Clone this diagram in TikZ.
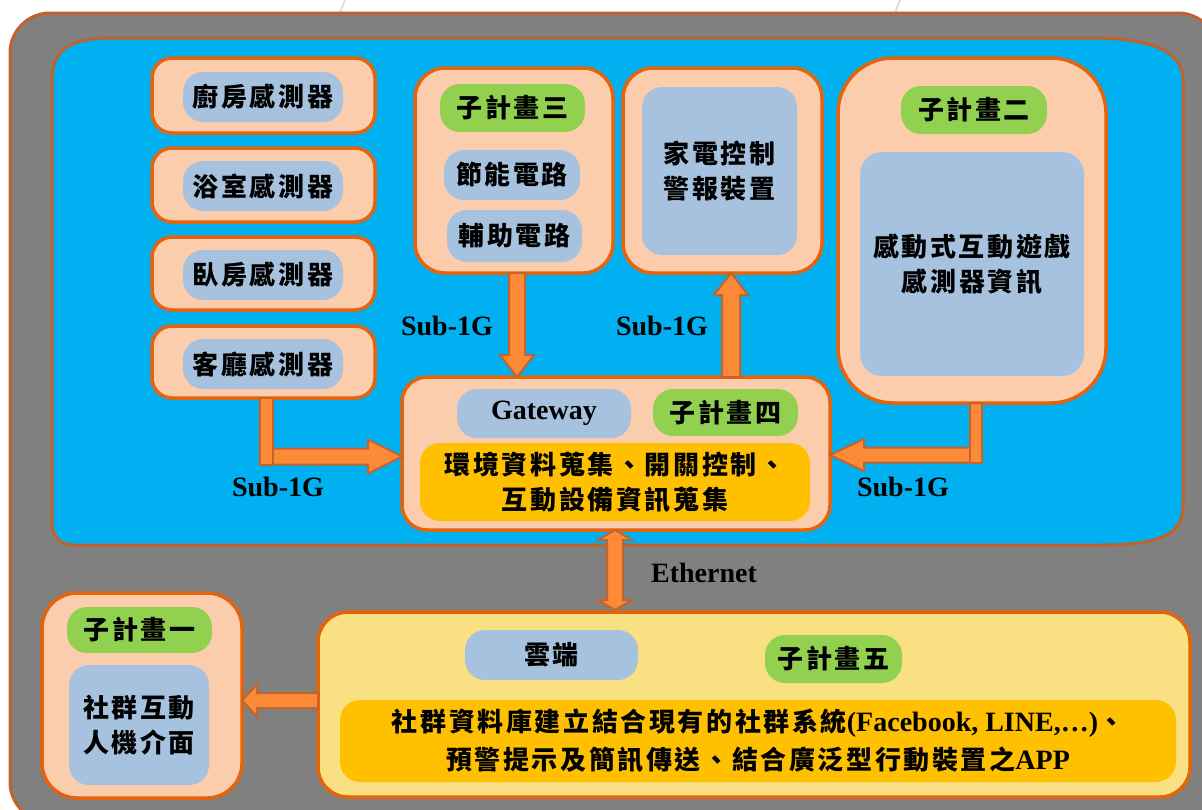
\documentclass[tikz,border=0pt]{standalone}
\usepackage{fontspec}
\setmainfont{Liberation Serif}
\newfontfamily\cjk[LetterSpace=10]{Noto Sans CJK TC}
\usetikzlibrary{calc}
\definecolor{peach}{HTML}{FCCDAC}
\definecolor{borange}{HTML}{E3640C}
\definecolor{obord}{HTML}{C0622A}
\definecolor{pblue}{HTML}{A6C2DE}
\definecolor{lgreen}{HTML}{92D050}
\definecolor{goldc}{HTML}{FFC000}
\definecolor{sky}{HTML}{00B0F0}
\definecolor{grayc}{HTML}{808080}
\definecolor{yellowc}{HTML}{F9E083}
\definecolor{afill}{HTML}{FD8A36}
\definecolor{abord}{HTML}{C4632A}
\newcommand\cj{\cjk\bfseries\fontsize{26}{35}\selectfont}
\newcommand\latinb{\rmfamily\bfseries\fontsize{28}{34}\selectfont}
\tikzset{
 box/.style={draw=borange, line width=3.5pt, fill=peach, rounded corners=#1, inner sep=0pt, outer sep=0pt},
 box/.default=20pt,
 pill/.style={fill=pblue, rounded corners=#1, inner sep=0pt, outer sep=0pt, align=center, font=\cj},
 pill/.default=20pt,
 gpill/.style={pill, fill=lgreen},
 goldbox/.style={pill=20pt, fill=goldc},
 lab/.style={font=\latinb, inner sep=0pt},
 barrow/.style={fill=afill, draw=abord, line width=2pt, line join=miter},
}
\begin{document}
\begin{tikzpicture}[x=1pt,y=-1pt]
\useasboundingbox (0,0) rectangle (1202,809);
\clip (0,0) rectangle (1202,809);
\fill[white] (0,0) rectangle (1202,809);
% faint background strokes
\draw[gray!30, line width=1.5pt] (345,0) -- (340,13);
\draw[gray!30, line width=1.5pt] (900,0) -- (895,13);
% outer gray frame
\draw[draw=obord, line width=3pt, fill=grayc, rounded corners=40pt] (10,13) rectangle (1218,822);
% blue region
\draw[draw=obord, line width=3pt, fill=sky]
  (52,520) -- (52,80) .. controls (52,50) and (70,38) .. (110,38) -- (1090,38)
  .. controls (1160,38) and (1183,55) .. (1183,80) -- (1183,505)
  .. controls (1183,535) and (1160,545) .. (1100,545) -- (75,545)
  .. controls (60,545) and (52,538) .. (52,520) -- cycle;

% sensors
\node[box, minimum width=223pt, minimum height=75pt] (k) at (263.5,95.5) {};
\node[pill, minimum width=160pt, minimum height=50pt] (kp) at (263,97) {廚房感測器};
\node[box, minimum width=223pt, minimum height=74pt] (b) at (263.5,185) {};
\node[pill, minimum width=160pt, minimum height=50pt] (bp) at (263,186) {浴室感測器};
\node[box, minimum width=223pt, minimum height=73pt] (r) at (263.5,273.5) {};
\node[pill, minimum width=160pt, minimum height=50pt] (rp) at (263,275) {臥房感測器};
\node[box, minimum width=223pt, minimum height=72pt] (l) at (263.5,362) {};
\node[pill, minimum width=160pt, minimum height=50pt] (lp) at (263,364) {客廳感測器};

% sub-project 3
\node[box=30pt, minimum width=198pt, minimum height=205pt] (s3) at (514,170.5) {};
\node[gpill, minimum width=145pt, minimum height=48pt] (g3) at (512.5,108) {子計畫三};
\node[pill, minimum width=136pt, minimum height=50pt] (p1) at (512,175) {節能電路};
\node[pill, minimum width=135pt, minimum height=52pt] (p2) at (514.5,236) {輔助電路};

% appliance
\node[box=30pt, minimum width=199pt, minimum height=205pt] (ap) at (722.5,170.5) {};
\node[pill, minimum width=155pt, minimum height=168pt] (api) at (719.5,171) {家電控制\\警報裝置};

% sub-project 2
\node[box=55pt, minimum width=268pt, minimum height=345pt] (s2) at (972,230.5) {};
\node[gpill, minimum width=146pt, minimum height=48pt] (g2) at (974,110) {子計畫二};
\node[pill=22pt, minimum width=224pt, minimum height=224pt] (s2i) at (972,264) {感動式互動遊戲\\感測器資訊};

% gateway
\node[box=25pt, minimum width=428pt, minimum height=153pt] (gw) at (616,453.5) {};
\node[pill, font=\latinb, minimum width=174pt, minimum height=49pt] (gwp) at (544,413.5) {Gateway};
\node[gpill, minimum width=145pt, minimum height=47pt] (g4) at (725.5,412.5) {子計畫四};
\node[goldbox, minimum width=390pt, minimum height=78pt] (gwg) at (615,482) {環境資料蒐集、開關控制、\\互動設備資訊蒐集};

% cloud
\node[box=30pt, fill=yellowc, minimum width=872pt, minimum height=185pt] (cl) at (754,704.5) {};
\node[pill, minimum width=173pt, minimum height=50pt] (cp) at (551.5,655) {雲端};
\node[gpill, minimum width=137pt, minimum height=48pt] (g5) at (833.5,659) {子計畫五};
\node[goldbox, minimum width=836pt, minimum height=82pt, font=\cjk\bfseries\fontsize{26}{38}\selectfont] (cg) at (758,741)
  {社群資料庫建立結合現有的社群系統{\latinb(Facebook, LINE,…)}、\\預警提示及簡訊傳送、結合廣泛型行動裝置之{\latinb APP}};

% sub-project 1
\node[box=35pt, minimum width=200pt, minimum height=205pt] (s1) at (142,695.5) {};
\node[gpill, minimum width=145pt, minimum height=46pt] (g1) at (139.5,630) {子計畫一};
\node[pill, minimum width=140pt, minimum height=120pt] (s1i) at (139,725) {社群互動\\人機介面};

% arrow s3 -> gateway (down)
\coordinate (d1) at ($(s3.south)+(3,0)$);
\coordinate (d2) at (d1 |- gw.north);
\draw[barrow] ($(d1)+(-8,0)$) -- ($(d1)+(8,0)$) -- ($(d2)+(8,-22)$) -- ($(d2)+(17,-22)$) -- (d2)
  -- ($(d2)+(-17,-22)$) -- ($(d2)+(-8,-22)$) -- cycle;
% arrow gateway -> appliance (up)
\coordinate (u2) at ($(ap.south)+(8.5,0)$);
\coordinate (u1) at (u2 |- gw.north);
\draw[barrow] ($(u1)+(-9,0)$) -- ($(u1)+(9,0)$) -- ($(u2)+(9,22)$) -- ($(u2)+(17,22)$) -- (u2)
  -- ($(u2)+(-17,22)$) -- ($(u2)+(-9,22)$) -- cycle;
% arrow living-room sensor -> gateway
\coordinate (e1) at ($(l.south)+(3,0)$);
\coordinate (e2) at ($(gw.west)+(0,3)$);
\coordinate (ec) at (e1 |- e2);
\draw[barrow] ($(ec)+(-6,-8)$) -- ($(e2)+(-34,-8)$) -- ($(e2)+(-34,-17)$) -- (e2)
  -- ($(e2)+(-34,17)$) -- ($(e2)+(-34,8)$) -- ($(ec)+(-6,8)$) -- cycle;
\draw[barrow] ($(e1)+(-6.5,0)$) rectangle ($(ec)+(6.5,8)$);
% arrow sub-project 2 -> gateway
\coordinate (f1) at ($(s2.south)+(4,0)$);
\coordinate (f2) at ($(gw.east)+(0,1.5)$);
\coordinate (fc) at (f1 |- f2);
\draw[barrow] ($(fc)+(6,-7.5)$) -- ($(f2)+(34,-7.5)$) -- ($(f2)+(34,-16)$) -- (f2)
  -- ($(f2)+(34,16)$) -- ($(f2)+(34,7.5)$) -- ($(fc)+(6,7.5)$) -- cycle;
\draw[barrow] ($(f1)+(-6,0)$) rectangle ($(fc)+(6,7.5)$);
% Ethernet double arrow
\coordinate (h1) at ($(gw.south)+(-1,0)$);
\coordinate (h2) at ($(h1 |- cl.north)+(0,-2)$);
\draw[barrow] (h1) -- ($(h1)+(17,10)$) -- ($(h1)+(8,10)$) -- ($(h2)+(8,-10)$) -- ($(h2)+(17,-10)$) -- (h2)
  -- ($(h2)+(-17,-10)$) -- ($(h2)+(-8,-10)$) -- ($(h1)+(-8,10)$) -- ($(h1)+(-17,10)$) -- cycle;
% cloud -> sub-project 1
\coordinate (j1) at ($(cl.west)+(0,-4)$);
\coordinate (j2) at (s1.east |- j1);
\draw[barrow] ($(j1)+(0,-7.5)$) -- ($(j2)+(15,-7.5)$) -- ($(j2)+(15,-16)$) -- (j2)
  -- ($(j2)+(15,16)$) -- ($(j2)+(15,7.5)$) -- ($(j1)+(0,7.5)$) -- cycle;

% labels
\node[lab] (t1) at (447,326) {Sub-1G};
\node[lab] (t2) at (662,326) {Sub-1G};
\node[lab] (t3) at (278,487) {Sub-1G};
\node[lab] (t4) at (903,487) {Sub-1G};
\node[lab] (t5) at (704,573) {Ethernet};
\end{tikzpicture}
\end{document}
